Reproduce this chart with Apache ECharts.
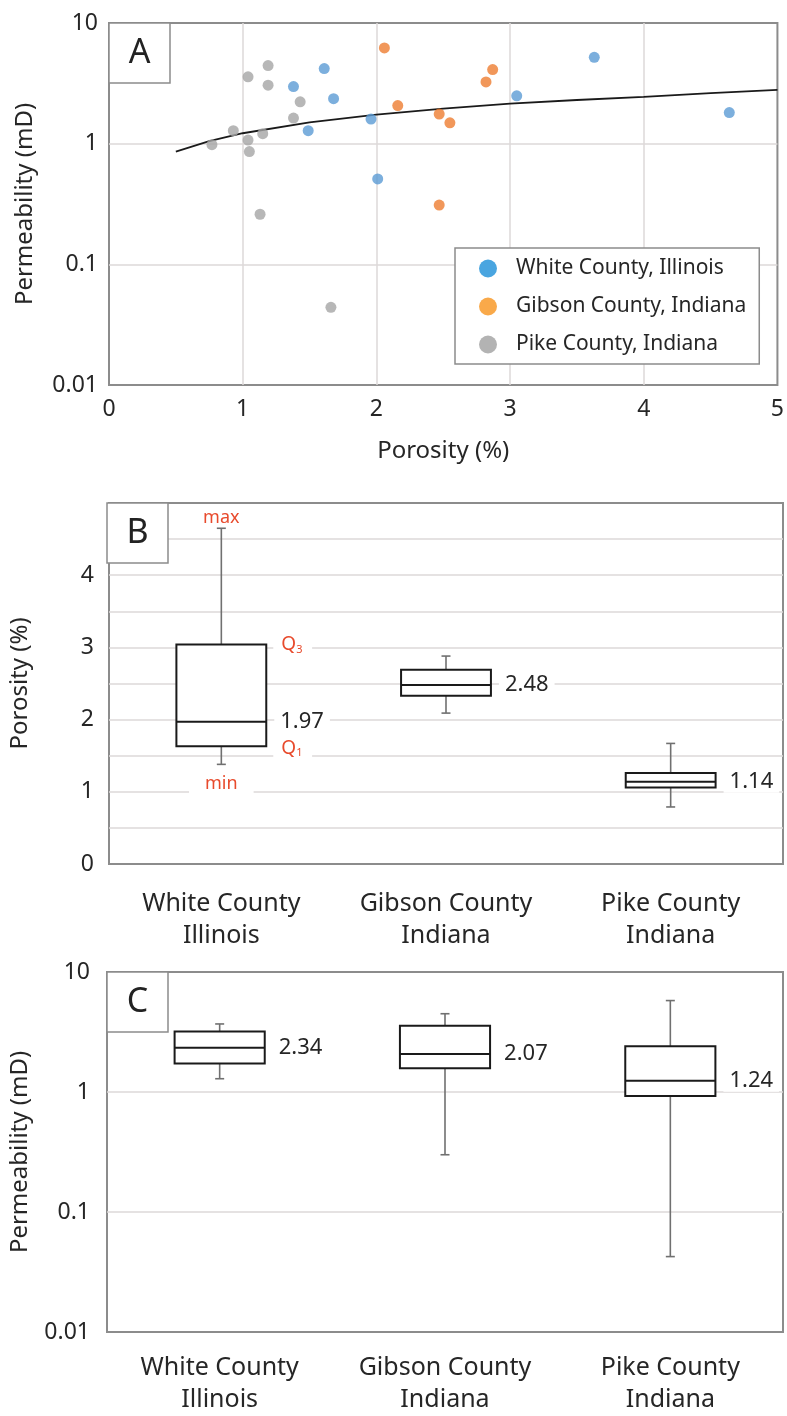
<!DOCTYPE html>
<html>
<head>
<meta charset="utf-8">
<script src="https://cdn.jsdelivr.net/npm/echarts@6/dist/echarts.min.js"></script>
<style>
html,body{margin:0;padding:0;background:#fff;}
#chart{width:787px;height:1416px;}
</style>
</head>
<body>
<div id="chart"></div>
<script>
// ---------- Panel A data (porosity %, permeability mD) ----------
const whitePor   = [1.61, 1.38, 1.68, 1.49, 1.96, 2.01, 3.63, 3.05, 4.64];
const whitePerm  = [4.19, 2.97, 2.36, 1.28, 1.60, 0.51, 5.20, 2.49, 1.81];
const gibsonPor  = [2.06, 2.16, 2.47, 2.55, 2.82, 2.87, 2.47];
const gibsonPerm = [6.22, 2.07, 1.76, 1.49, 3.25, 4.11, 0.31];
const pikePor    = [1.19, 1.04, 1.19, 1.43, 1.38, 0.93, 1.15, 0.77, 1.04, 1.05, 1.13, 1.66];
const pikePerm   = [4.44, 3.58, 3.05, 2.22, 1.63, 1.28, 1.21, 0.98, 1.07, 0.86, 0.26, 0.044];
const trendPor   = [0.5, 0.75, 1, 1.5, 2, 2.5, 3, 3.5, 4, 4.5, 5];
const trendPerm  = [0.86, 1.05, 1.22, 1.50, 1.74, 1.95, 2.15, 2.30, 2.44, 2.62, 2.79];
const seriesNames = ['White County, Illinois', 'Gibson County, Indiana', 'Pike County, Indiana'];

// ---------- Panel B / C data: [min, Q1, median, Q3, max] ----------
const categories = ['White County\nIllinois', 'Gibson County\nIndiana', 'Pike County\nIndiana'];
const porosityWhite  = [1.38, 1.63, 1.97, 3.04, 4.65];
const porosityGibson = [2.09, 2.33, 2.48, 2.69, 2.88];
const porosityPike   = [0.79, 1.06, 1.14, 1.26, 1.67];
const permWhite  = [1.29, 1.73, 2.34, 3.20, 3.69];
const permGibson = [0.30, 1.58, 2.07, 3.57, 4.49];
const permPike   = [0.0425, 0.927, 1.24, 2.40, 5.78];

// ---------- tick labels ----------
const porosityXTicks = ['0', '1', '2', '3', '4', '5'];
const logTickValues = [0.01, 0.1, 1, 10];
const logTickLabels = ['0.01', '0.1', '1', '10'];
const porosityYTicks = ['0', '1', '2', '3', '4'];

const FONT = '"Noto Sans", sans-serif';
const TXT = '#262626';
const GRIDC = '#dcd8d8';
const BORDER = '#8c8c8c';
const RED = '#e84a2c';

function zip(a, b) { return a.map((v, i) => [v, b[i]]); }
function logFmt(v) {
  for (let i = 0; i < logTickValues.length; i++) {
    if (Math.abs(Math.log10(v) - Math.log10(logTickValues[i])) < 1e-6) return logTickLabels[i];
  }
  return '';
}
function porYFmt(v) {
  const r = Math.round(v * 100) / 100;
  if (Number.isInteger(r) && r < 5) return porosityYTicks[r] || '';
  return '';
}

function boxRenderer(annotate) {
  return function (params, api) {
    const idx = api.value(0);
    const vmin = api.value(1), q1 = api.value(2), med = api.value(3), q3 = api.value(4), vmax = api.value(5);
    const pMin = api.coord([idx, vmin]);
    const pQ1 = api.coord([idx, q1]);
    const pMed = api.coord([idx, med]);
    const pQ3 = api.coord([idx, q3]);
    const pMax = api.coord([idx, vmax]);
    const band = api.size([1, 0], [idx, med])[0];
    const half = band * 0.2;
    const cx = pMed[0];
    const wStyle = { stroke: '#707070', lineWidth: 1.6 };
    const bStyle = { stroke: '#1a1a1a', lineWidth: 2, fill: '#fff' };
    const children = [
      { type: 'line', shape: { x1: cx, y1: pMax[1], x2: cx, y2: pQ3[1] }, style: wStyle },
      { type: 'line', shape: { x1: cx, y1: pQ1[1], x2: cx, y2: pMin[1] }, style: wStyle },
      { type: 'line', shape: { x1: cx - 4.5, y1: pMax[1], x2: cx + 4.5, y2: pMax[1] }, style: wStyle },
      { type: 'line', shape: { x1: cx - 4.5, y1: pMin[1], x2: cx + 4.5, y2: pMin[1] }, style: wStyle },
      { type: 'rect', shape: { x: cx - half, y: pQ3[1], width: half * 2, height: pQ1[1] - pQ3[1] }, style: bStyle },
      { type: 'line', shape: { x1: cx - half, y1: pMed[1], x2: cx + half, y2: pMed[1] }, style: { stroke: '#1a1a1a', lineWidth: 2 } },
      { type: 'text', x: cx + half + 8, y: pMed[1], z2: 10,
        style: { text: med.toFixed(2), fill: TXT, font: '22px ' + FONT, align: 'left', verticalAlign: 'middle',
                 backgroundColor: '#fff', padding: [0, 6, 0, 6] } }
    ];
    if (annotate && params.dataIndex === 0) {
      const rf = (s) => s + 'px ' + FONT;
      children.push(
        { type: 'text', x: cx, y: pMax[1] - 10, z2: 10,
          style: { text: 'max', fill: RED, font: rf(18), align: 'center', verticalAlign: 'middle' } },
        { type: 'text', x: cx, y: pMin[1] + 20, z2: 10,
          style: { text: 'min', fill: RED, font: rf(18), align: 'center', verticalAlign: 'middle',
                   backgroundColor: '#fff', padding: [2, 16, 4, 16] } },
        { type: 'text', x: cx + half + 7, y: pQ3[1], z2: 10,
          style: { text: 'Q', fill: RED, font: rf(19), align: 'left', verticalAlign: 'middle',
                   backgroundColor: '#fff', padding: [2, 16, 2, 8] } },
        { type: 'text', x: cx + half + 30, y: pQ3[1] + 5, z2: 11,
          style: { text: '3', fill: RED, font: rf(11), align: 'left', verticalAlign: 'middle' } },
        { type: 'text', x: cx + half + 7, y: pQ1[1] + 2, z2: 10,
          style: { text: 'Q', fill: RED, font: rf(19), align: 'left', verticalAlign: 'middle',
                   backgroundColor: '#fff', padding: [2, 16, 2, 8] } },
        { type: 'text', x: cx + half + 30, y: pQ1[1] + 7, z2: 11,
          style: { text: '1', fill: RED, font: rf(11), align: 'left', verticalAlign: 'middle' } }
      );
    }
    return { type: 'group', children: children };
  };
}

function panelLabel(letter, x, y) {
  return [
    { type: 'rect', z: 100, zlevel: 0, shape: { x: x, y: y, width: 61, height: 60 },
      style: { fill: '#fff', stroke: BORDER, lineWidth: 1.5 } },
    { type: 'text', z: 101, zlevel: 0, x: x + 30.5, y: y + 30,
      style: { text: letter, fill: '#222', font: '34px ' + FONT, align: 'center', verticalAlign: 'middle' } }
  ];
}

const axisNameStyle = { fontSize: 24, color: TXT, fontFamily: FONT };
const tickStyle = { fontSize: 23, color: TXT, fontFamily: FONT };
const splitStyle = { show: true, showMinLine: false, showMaxLine: false, lineStyle: { color: GRIDC, width: 1.5 } };

const option = {
  animation: false,
  backgroundColor: '#fff',
  textStyle: { fontFamily: FONT },
  grid: [
    { left: 109, top: 23, width: 675, height: 362, show: true, borderColor: BORDER, borderWidth: 2, backgroundColor: 'transparent' },
    { left: 107, top: 503, width: 676, height: 361, show: true, borderColor: BORDER, borderWidth: 2, backgroundColor: 'transparent' },
    { left: 107, top: 972, width: 676, height: 362, show: true, borderColor: BORDER, borderWidth: 2, backgroundColor: 'transparent' }
  ],
  xAxis: [
    { gridIndex: 0, type: 'value', min: 0, max: 5, interval: 1,
      axisLine: { show: false }, axisTick: { show: false }, splitLine: splitStyle,
      axisLabel: Object.assign({ margin: 13, formatter: (v) => porosityXTicks[Math.round(v)] }, tickStyle),
      name: 'Porosity (%)', nameLocation: 'middle', nameGap: 54, nameTextStyle: axisNameStyle },
    { gridIndex: 1, type: 'category', data: categories,
      axisLine: { show: false }, axisTick: { show: false }, splitLine: { show: false },
      axisLabel: { interval: 0, fontSize: 25, lineHeight: 32, color: TXT, fontFamily: FONT, margin: 24 } },
    { gridIndex: 2, type: 'category', data: categories,
      axisLine: { show: false }, axisTick: { show: false }, splitLine: { show: false },
      axisLabel: { interval: 0, fontSize: 25, lineHeight: 32, color: TXT, fontFamily: FONT, margin: 20 } }
  ],
  yAxis: [
    { gridIndex: 0, type: 'log', logBase: 10, min: 0.01, max: 10,
      axisLine: { show: false }, axisTick: { show: false }, splitLine: splitStyle, minorSplitLine: { show: false },
      axisLabel: Object.assign({ margin: 11, formatter: logFmt }, tickStyle),
      name: 'Permeability (mD)', nameLocation: 'middle', nameGap: 72, nameTextStyle: axisNameStyle },
    { gridIndex: 1, type: 'value', min: 0, max: 5, interval: 0.5,
      axisLine: { show: false }, axisTick: { show: false }, splitLine: splitStyle,
      axisLabel: Object.assign({ margin: 15, formatter: porYFmt, showMaxLabel: true }, tickStyle),
      name: 'Porosity (%)', nameLocation: 'middle', nameGap: 77, nameTextStyle: axisNameStyle },
    { gridIndex: 2, type: 'log', logBase: 10, min: 0.01, max: 10,
      axisLine: { show: false }, axisTick: { show: false }, splitLine: splitStyle, minorSplitLine: { show: false },
      axisLabel: Object.assign({ margin: 17, formatter: logFmt }, tickStyle),
      name: 'Permeability (mD)', nameLocation: 'middle', nameGap: 75, nameTextStyle: axisNameStyle }
  ],
  legend: {
    left: 455, top: 248, orient: 'vertical', selectedMode: false,
    backgroundColor: '#fff', borderColor: BORDER, borderWidth: 1.5,
    padding: [8, 13, 7, 24], itemWidth: 18, itemHeight: 18, itemGap: 13, icon: 'circle',
    textStyle: { fontSize: 21, color: TXT, fontFamily: FONT, lineHeight: 25, padding: [0, 0, 0, 14] },
    data: [
      { name: seriesNames[0], itemStyle: { color: '#1b8fd8' } },
      { name: seriesNames[1], itemStyle: { color: '#f7941d' } },
      { name: seriesNames[2], itemStyle: { color: '#a0a0a0' } }
    ]
  },
  graphic: {
    elements: [].concat(
      panelLabel('A', 109, 23),
      panelLabel('B', 107, 503),
      panelLabel('C', 107, 972)
    )
  },
  series: [
    { name: 'trend', type: 'line', xAxisIndex: 0, yAxisIndex: 0, data: zip(trendPor, trendPerm),
      showSymbol: false, smooth: false, lineStyle: { color: '#1a1a1a', width: 1.8 }, z: 1, silent: true },
    { name: seriesNames[0], type: 'scatter', xAxisIndex: 0, yAxisIndex: 0, data: zip(whitePor, whitePerm),
      symbolSize: 11, itemStyle: { color: '#5b9bd5' }, z: 2 },
    { name: seriesNames[1], type: 'scatter', xAxisIndex: 0, yAxisIndex: 0, data: zip(gibsonPor, gibsonPerm),
      symbolSize: 11, itemStyle: { color: '#ed7d31' }, z: 2 },
    { name: seriesNames[2], type: 'scatter', xAxisIndex: 0, yAxisIndex: 0, data: zip(pikePor, pikePerm),
      symbolSize: 11, itemStyle: { color: '#a5a5a5' }, z: 2 },
    { name: 'porosityBox', type: 'custom', xAxisIndex: 1, yAxisIndex: 1,
      renderItem: boxRenderer(true), encode: { x: 0, y: [1, 2, 3, 4, 5] },
      data: [[0].concat(porosityWhite), [1].concat(porosityGibson), [2].concat(porosityPike)], z: 3 },
    { name: 'permBox', type: 'custom', xAxisIndex: 2, yAxisIndex: 2,
      renderItem: boxRenderer(false), encode: { x: 0, y: [1, 2, 3, 4, 5] },
      data: [[0].concat(permWhite), [1].concat(permGibson), [2].concat(permPike)], z: 3 }
  ]
};

const chart = echarts.init(document.getElementById('chart'), null, { renderer: 'canvas' });
chart.setOption(option);
</script>
</body>
</html>
